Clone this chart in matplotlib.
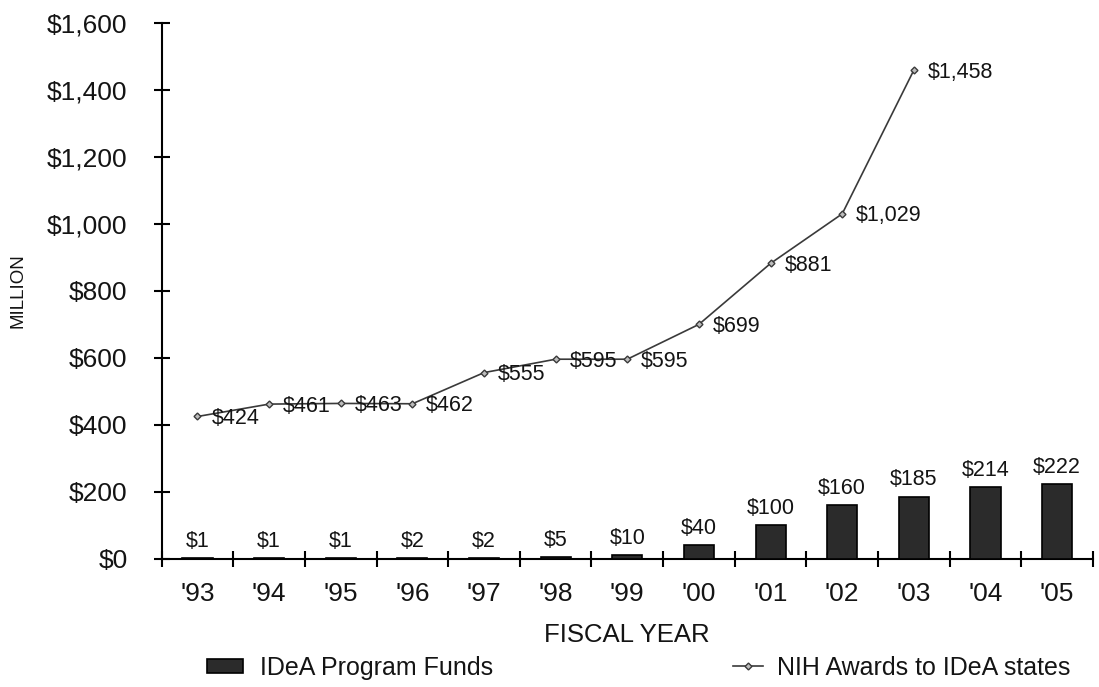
import matplotlib
matplotlib.use("Agg")
import matplotlib.pyplot as plt
from matplotlib.lines import Line2D
from matplotlib.patches import Patch
import numpy as np

plt.rcParams["font.family"] = ["Liberation Sans", "DejaVu Sans"]

# Fiscal years and funding values (millions of dollars)
years = ["'93", "'94", "'95", "'96", "'97", "'98", "'99", "'00", "'01", "'02", "'03", "'04", "'05"]
idea_funds = [1, 1, 1, 2, 2, 5, 10, 40, 100, 160, 185, 214, 222]
nih_awards = [424, 461, 463, 462, 555, 595, 595, 699, 881, 1029, 1458]
y_ticks = [0, 200, 400, 600, 800, 1000, 1200, 1400, 1600]

TEXT = "#141414"
LINE = "#3a3a3a"

fig = plt.figure(figsize=(10.99, 6.87), dpi=100)
ax = fig.add_axes([0.1471, 0.187, 0.9945 - 0.1471, 0.9672 - 0.187])

x = np.arange(len(years))
x_line = np.arange(len(nih_awards))

ax.bar(x, idea_funds, width=0.42, color="#2b2b2b", edgecolor="black",
       linewidth=1.2, zorder=3)
ax.plot(x_line, nih_awards, color=LINE, linewidth=1.2, marker="D",
        markersize=3.5, markerfacecolor="#bdbdbd", markeredgecolor=LINE,
        markeredgewidth=1.0, zorder=4)

# Value labels above bars
for xi, v in zip(x, idea_funds):
    ax.annotate(f"${v:,}", (xi, v), xytext=(0, 8), textcoords="offset points",
                ha="center", va="baseline", fontsize=15.5, color=TEXT)

# Value labels beside line points
for xi, v in zip(x_line, nih_awards):
    ax.annotate(f"${v:,}", (xi, v), xytext=(10, -5.5), textcoords="offset points",
                ha="left", va="baseline", fontsize=15.5, color=TEXT, zorder=5)

ax.set_xlim(-0.5, len(years) - 0.5)
ax.set_ylim(0, 1600)

# Y axis
ax.set_yticks(y_ticks)
ax.set_yticklabels([f"${v:,}" for v in y_ticks])
ax.tick_params(axis="y", direction="inout", length=11, width=1.5, pad=19,
               labelsize=19, labelcolor=TEXT)

# X axis: tick marks between categories, labels at centers
ax.set_xticks(np.arange(-0.5, len(years), 1.0))
ax.set_xticklabels([])
ax.set_xticks(x, minor=True)
ax.set_xticklabels(years, minor=True)
ax.tick_params(axis="x", which="major", direction="inout", length=11, width=1.5)
ax.tick_params(axis="x", which="minor", length=0, pad=17, labelsize=19,
               labelcolor=TEXT)

for s in ["top", "right"]:
    ax.spines[s].set_visible(False)
for s in ["left", "bottom"]:
    ax.spines[s].set_linewidth(1.5)
    ax.spines[s].set_color("black")

ax.set_xlabel("FISCAL YEAR", fontsize=18.5, color=TEXT)
ax.xaxis.label.set_va("center")
ax.xaxis.set_label_coords(0.5, -0.142)
ax.set_ylabel("MILLION", fontsize=13.5, color=TEXT)
ax.yaxis.label.set_va("center")
ax.yaxis.set_label_coords(-0.154, 0.5)

# Legends along the bottom
bar_handle = Patch(facecolor="#2b2b2b", edgecolor="black", linewidth=1.2)
line_handle = Line2D([], [], color=LINE, linewidth=1.2, marker="D",
                     markersize=3.5, markerfacecolor="#bdbdbd",
                     markeredgecolor=LINE)
fig.legend([bar_handle], ["IDeA Program Funds"], loc="center left",
           bbox_to_anchor=(207 / 1099, 1 - 668 / 687), frameon=False,
           borderpad=0, borderaxespad=0, handlelength=1.44, handleheight=0.44,
           handletextpad=0.68, fontsize=18, labelcolor=TEXT)
fig.legend([line_handle], ["NIH Awards to IDeA states"], loc="center left",
           bbox_to_anchor=(733 / 1099, 1 - 668 / 687), frameon=False,
           borderpad=0, borderaxespad=0, handlelength=1.2,
           handletextpad=0.56, fontsize=18, labelcolor=TEXT)

fig.savefig("out.png", dpi=100)
